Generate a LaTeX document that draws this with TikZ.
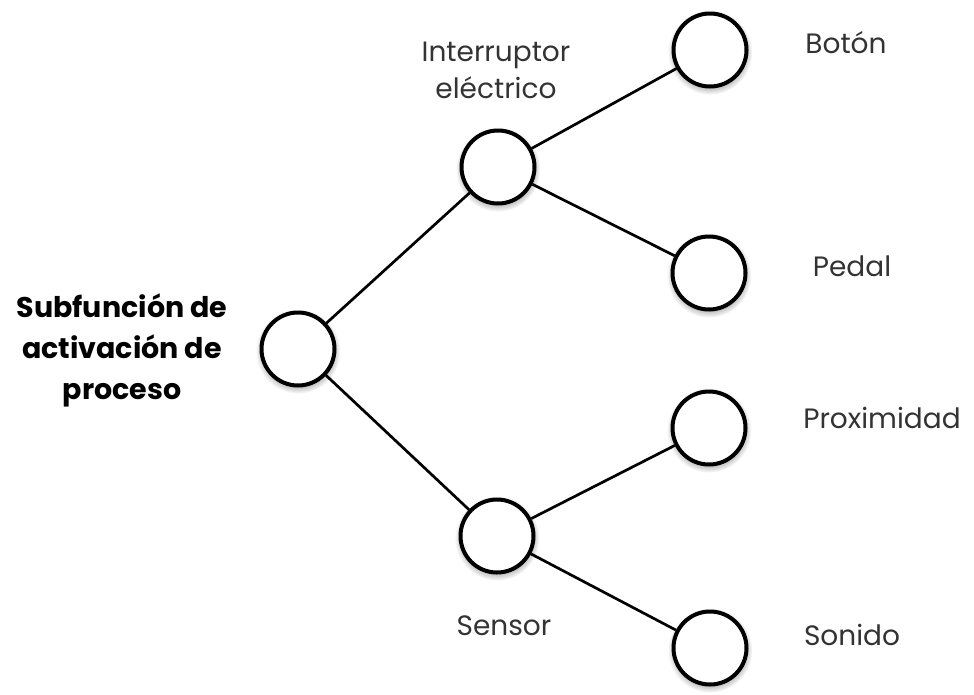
\documentclass[tikz,border=0pt]{standalone}
\usepackage{fontspec}
\setmainfont{Poppins}
\usepackage{tikz}
\usetikzlibrary{shadows}
\tikzstyle{vertex}=[circle,draw=black,line width=4pt,fill=white,minimum size=73pt,inner sep=0pt,
  circular drop shadow={shadow xshift=0pt,shadow yshift=-2pt,shadow scale=1.16,opacity=0.45}]
\tikzstyle{label}=[text=black!80,font=\fontsize{28}{37}\selectfont,inner sep=0pt]
\tikzstyle{edge}=[line width=2.7pt]

\begin{document}
\begin{tikzpicture}[x=1pt,y=-1pt]
  \useasboundingbox (0,0) rectangle (974,694);
  \node[vertex] (n1) at (298,349) {};
  \node[vertex] (n2) at (498,167) {};
  \node[vertex] (n3) at (497,536) {};
  \node[vertex] (n4) at (710,50)  {};
  \node[vertex] (n5) at (709,273) {};
  \node[vertex] (n6) at (709,428) {};
  \node[vertex] (n7) at (710,648) {};

  \node[label,align=center,text=black,font=\fontsize{28.5}{41}\selectfont\bfseries] (l1) at (122,350) {Subfunción de\\activación de\\proceso};
  \node[label,align=center] (l2) at (496,70) {Interruptor\\eléctrico};
  \node[label,anchor=base] (l3) at (504,635) {Sensor};
  \node[label,anchor=base] (l4) at (846,53)  {Botón};
  \node[label,anchor=base] (l5) at (852,276) {Pedal};
  \node[label,anchor=base] (l6) at (882,428) {Proximidad};
  \node[label,anchor=base] (l7) at (852,645) {Sonido};

  \foreach \from/\to in {n1/n2,n1/n3,n2/n4,n2/n5,n3/n6,n3/n7}
      \draw[edge] (\from) -- (\to);
\end{tikzpicture}
\end{document}
